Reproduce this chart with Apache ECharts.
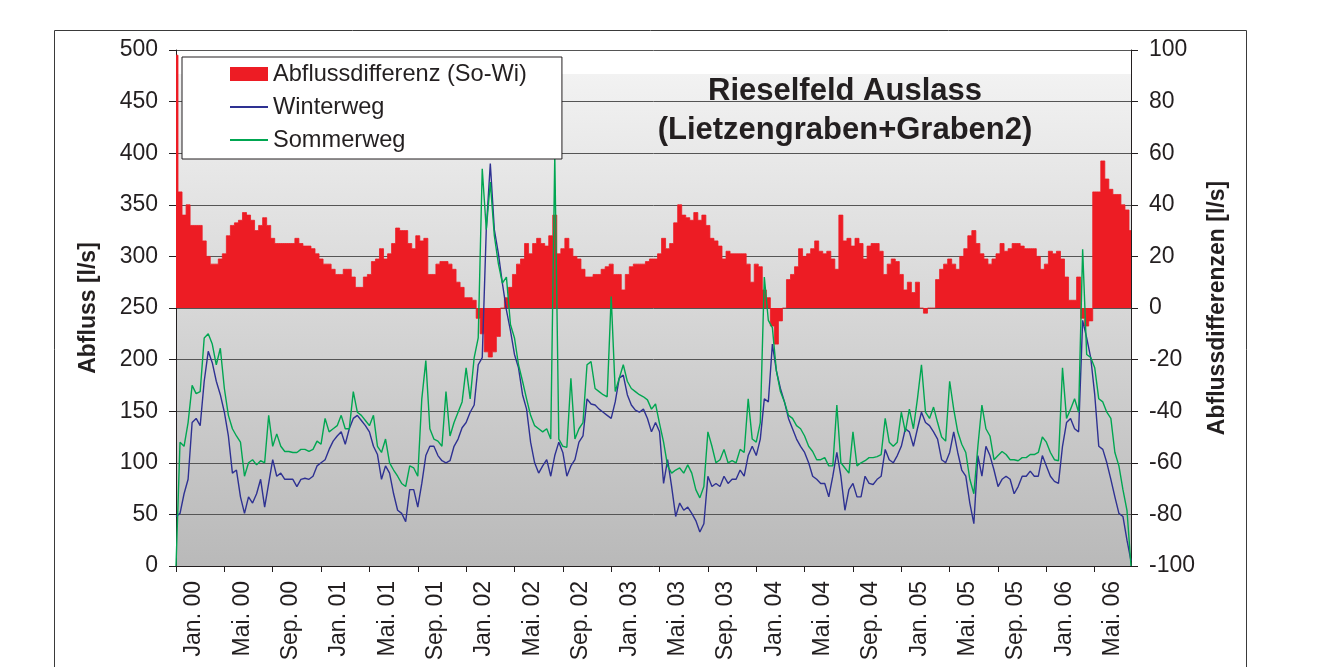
<!DOCTYPE html>
<html>
<head>
<meta charset="utf-8">
<script src="https://cdn.jsdelivr.net/npm/echarts@6/dist/echarts.min.js"></script>
<style>
html,body{margin:0;padding:0;background:#ffffff;}
#chart{width:1321px;height:667px;}
</style>
</head>
<body>
<div id="chart"></div>
<script>
// Tick labels of the time axis (every 4 months)
const tickLabels = ['Jan. 00','Mai. 00','Sep. 00','Jan. 01','Mai. 01','Sep. 01','Jan. 02','Mai. 02','Sep. 02','Jan. 03',
  'Mai. 03','Sep. 03','Jan. 04','Mai. 04','Sep. 04','Jan. 05','Mai. 05','Sep. 05','Jan. 06','Mai. 06'];

// Abflussdifferenz (So-Wi) [l/s], dekadal readings from Jan 2000 to Aug 2006 (right axis)
const diffValues = [
  98,45,36,40,32,32,32,26,20,17, 17,19,21,28,32,33,34,37,36,34, 30,32,35,32,27,25,25,25,25,25, 27,25,24,24,23,21,19,17,17,15,
  13,13,15,15,12,8,8,12,13,18, 19,23,19,21,25,31,30,30,25,23, 28,26,27,13,13,17,18,18,17,15, 10,8,4,4,3,-4,-10,-17,-19,
  -17,-11,0,4,8,13,17,19,25,21, 25,27,25,24,28,36,21,23,27,23, 20,19,15,12,12,13,13,15,16,17, 13,13,7,13,16,17,17,17,18,19,
  19,21,27,23,25,33,40,36,35,34, 37,34,36,32,27,26,24,19,22,21, 21,21,21,17,10,17,16,7,4,-7, -14,-5,0,11,13,16,23,20,21,23,
  26,22,21,22,19,15,36,26,27,24, 27,25,19,24,25,25,22,13,17,19, 18,13,7,10,6,10,0,-2,0,0, 11,15,17,19,17,15,20,23,28,30,
  25,21,19,17,19,21,25,22,23,25, 25,24,23,23,23,20,15,17,22,21, 22,19,12,3,3,12,-4,-7,-5,45, 45,57,50,46,44,44,40,38,30
];

// Winterweg [l/s] (left axis)
const winterValues = [
  48,51,70,84,139,143,136,179,208,197, 179,166,149,126,90,93,67,51,67,61, 70,84,57,80,103,87,90,84,84,84, 77,84,85,84,87,97,100,103,113,121,
  126,130,118,133,143,146,141,136,130,116, 108,84,97,90,70,54,51,43,74,74, 57,80,107,116,116,107,102,100,102,116, 123,134,139,149,156,195,202,326,390,
  326,303,274,248,228,205,192,166,152,120, 100,90,97,103,87,107,120,110,87,97, 103,120,126,162,157,156,152,149,146,143, 159,182,185,166,156,151,149,152,143,130,
  139,130,80,103,77,48,61,54,57,51, 44,33,41,87,77,80,77,87,80,84, 84,93,87,107,116,107,123,162,159,215, 189,172,159,143,133,123,116,110,100,87,
  84,80,80,67,87,110,87,54,74,80, 67,67,87,80,79,84,87,113,103,100, 107,116,133,130,116,133,149,139,136,130, 123,103,100,110,130,110,93,87,61,41,
  107,87,116,107,93,77,84,87,84,70, 77,87,87,92,87,87,107,97,87,82, 80,116,139,143,133,130,238,221,202,166, 116,113,100,84,67,51,48,25,5
];

// Sommerweg [l/s] (left axis)
const sommerValues = [
  0,120,116,139,175,167,169,221,225,215, 195,211,172,146,133,126,120,87,100,103, 98,102,100,146,116,128,116,111,111,110, 110,113,113,111,113,121,118,143,130,133,
  136,146,133,133,169,149,146,141,136,146, 116,110,123,100,93,87,80,77,97,95, 87,162,199,133,123,121,116,169,126,139, 149,159,192,162,202,221,385,326,372,
  320,293,274,280,234,221,195,179,162,146, 136,133,130,133,123,398,123,116,115,182, 123,133,139,195,198,172,169,166,164,261, 169,182,195,179,172,169,166,164,161,152,
  157,138,120,97,90,93,95,90,98,90, 74,66,77,130,116,100,103,113,100,102, 100,113,110,162,123,120,139,280,238,231, 189,169,159,146,143,136,133,126,116,111,
  103,103,105,97,97,156,100,95,90,130, 97,100,102,105,105,106,108,143,120,116, 120,149,130,152,133,162,195,149,143,154, 139,125,121,179,152,130,118,110,84,70,
  116,156,133,126,103,107,111,108,103,103, 102,105,105,108,108,110,125,120,110,103, 102,192,143,152,162,149,307,205,202,192, 162,159,149,143,110,97,74,54,0
];

// Dekad categories (1st, 11th, 21st of each month)
const categories = [];
outer:
for (let y = 2000; y <= 2006; y++) {
  for (let m = 1; m <= 12; m++) {
    for (const d of [1, 11, 21]) {
      if (categories.length >= diffValues.length) break outer;
      categories.push(y + '-' + String(m).padStart(2, '0') + '-' + String(d).padStart(2, '0'));
    }
  }
}

const FONT = '"Liberation Sans", Arial, Helvetica, sans-serif';
const TXT = '#231f20';
const isTick = (idx) => idx % 12 === 0;

const chart = echarts.init(document.getElementById('chart'), null, {renderer: 'canvas'});
chart.setOption({
  animation: false,
  backgroundColor: '#ffffff',
  textStyle: {fontFamily: FONT},
  title: {
    text: 'Rieselfeld Auslass\n(Lietzengraben+Graben2)',
    left: 845, top: 72, textAlign: 'center', padding: 0,
    textStyle: {fontSize: 31, fontWeight: 'bold', lineHeight: 39, color: TXT, fontFamily: FONT}
  },
  legend: {
    orient: 'vertical', left: 182, top: 57, z: 10,
    padding: [5, 35, 7, 47], itemGap: 9, itemWidth: 38, itemHeight: 14,
    backgroundColor: '#ffffff', borderColor: TXT, borderWidth: 1,
    selectedMode: false,
    textStyle: {fontSize: 23.6, lineHeight: 23, color: TXT, fontFamily: FONT},
    data: [
      {name: 'Abflussdifferenz (So-Wi)', icon: 'rect'},
      {name: 'Winterweg', itemStyle: {color: 'rgba(0,0,0,0)', borderWidth: 0, borderColor: 'rgba(0,0,0,0)'}},
      {name: 'Sommerweg', itemStyle: {color: 'rgba(0,0,0,0)', borderWidth: 0, borderColor: 'rgba(0,0,0,0)'}}
    ]
  },
  grid: {
    left: 176, right: 190, top: 50, bottom: 101,
    show: true, borderWidth: 0,
    backgroundColor: {
      type: 'linear', x: 0, y: 0, x2: 0, y2: 1,
      colorStops: [
        {offset: 0, color: '#ffffff'},
        {offset: 0.046, color: '#ffffff'},
        {offset: 0.047, color: '#f2f2f2'},
        {offset: 1, color: '#b9b9b9'}
      ]
    }
  },
  xAxis: {
    type: 'category', data: categories, boundaryGap: false,
    axisLine: {show: true, lineStyle: {color: TXT, width: 1}},
    axisTick: {show: true, interval: isTick, length: 6, lineStyle: {color: TXT}},
    axisLabel: {
      interval: isTick, rotate: 90, margin: 15, fontSize: 23, color: TXT, fontFamily: FONT,
      verticalAlign: 'top', lineHeight: 36,
      formatter: (v, i) => (i % 12 === 0 && tickLabels[i / 12] !== undefined) ? tickLabels[i / 12] : ''
    },
    splitLine: {show: false}
  },
  yAxis: [
    {
      type: 'value', position: 'left', min: 0, max: 500, interval: 50,
      name: 'Abfluss [l/s]', nameLocation: 'middle', nameGap: 76, nameRotate: 90,
      nameTextStyle: {fontSize: 23, fontWeight: 'bold', color: TXT, fontFamily: FONT},
      axisLine: {show: true, lineStyle: {color: TXT, width: 1}},
      axisTick: {show: true, length: 7, lineStyle: {color: TXT}},
      axisLabel: {margin: 18, fontSize: 23, color: TXT, fontFamily: FONT},
      splitLine: {show: true, lineStyle: {color: '#555555', width: 1}}
    },
    {
      type: 'value', position: 'right', min: -100, max: 100, interval: 20,
      name: 'Abflussdifferenzen [l/s]', nameLocation: 'middle', nameGap: 75, nameRotate: 90,
      nameTextStyle: {fontSize: 23, fontWeight: 'bold', color: TXT, fontFamily: FONT},
      axisLine: {show: true, lineStyle: {color: TXT, width: 1}},
      axisTick: {show: true, length: 7, lineStyle: {color: TXT}},
      axisLabel: {margin: 18, fontSize: 23, color: TXT, fontFamily: FONT},
      splitLine: {show: false}
    }
  ],
  graphic: [
    {type: 'rect', silent: true, z: -10,
     shape: {x: 54.5, y: 30.5, width: 1192, height: 700},
     style: {fill: 'none', stroke: '#3a3a3a', lineWidth: 1}}
  ],
  series: [
    {
      name: 'Abflussdifferenz (So-Wi)', type: 'line', yAxisIndex: 1, data: diffValues,
      symbol: 'none', step: 'middle',
      lineStyle: {color: '#ed1c24', width: 0.8},
      itemStyle: {color: '#ed1c24'},
      areaStyle: {color: '#ed1c24', opacity: 1}
    },
    {
      name: 'Winterweg', type: 'line', yAxisIndex: 0, data: winterValues,
      symbol: 'none',
      lineStyle: {color: '#2e3192', width: 1.4},
      itemStyle: {color: '#2e3192'}
    },
    {
      name: 'Sommerweg', type: 'line', yAxisIndex: 0, data: sommerValues,
      symbol: 'none',
      lineStyle: {color: '#00a651', width: 1.4},
      itemStyle: {color: '#00a651'}
    }
  ]
});
</script>
</body>
</html>
